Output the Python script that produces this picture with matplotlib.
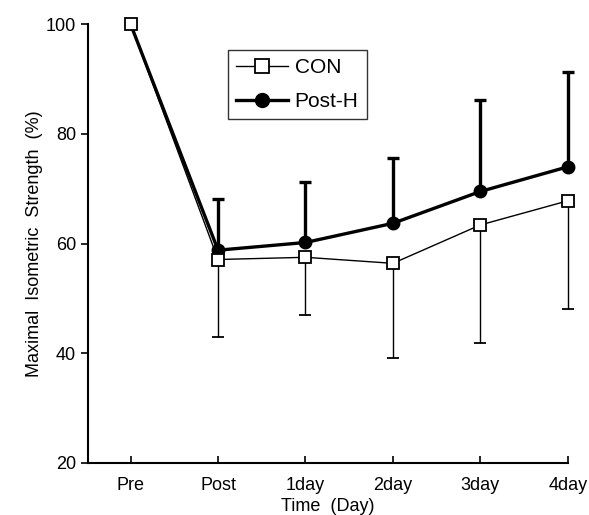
import numpy as np
import matplotlib
matplotlib.use('Agg')
import matplotlib.pyplot as plt

plt.rcParams['font.family'] = ['Liberation Sans', 'DejaVu Sans']

# data
days = ['Pre', 'Post', '1day', '2day', '3day', '4day']
con_mean = [100, 57.1, 57.5, 56.4, 63.4, 67.8]
con_sd = [0, 14.2, 10.6, 17.2, 21.6, 19.8]        # drawn downward only
posth_mean = [100, 58.8, 60.2, 63.7, 69.5, 74.0]
posth_sd = [0, 9.3, 11.0, 11.9, 16.7, 17.3]       # drawn upward only

x = np.arange(len(days))
zeros = np.zeros(len(days))

fig = plt.figure(figsize=(5.89, 5.15), dpi=100)
ax = fig.add_axes([0.149, 0.101, 0.815, 0.852])

# Post-H: thick line, filled circles, upper error bars
eb = ax.errorbar(x[1:], posth_mean[1:], yerr=[zeros[1:], posth_sd[1:]], fmt='none',
                 ecolor='black', elinewidth=2.4, capsize=4, capthick=2.4, zorder=2)
for art in eb.lines[1] + eb.lines[2]:
    art.set_clip_on(False)
ax.plot(x, posth_mean, color='black', lw=2.4, zorder=3, clip_on=False)
ax.plot(x[1:], posth_mean[1:], 'o', color='black', ms=9, zorder=4, clip_on=False)

# CON: thin line, open squares, lower error bars
eb = ax.errorbar(x[1:], con_mean[1:], yerr=[con_sd[1:], zeros[1:]], fmt='none',
                 ecolor='black', elinewidth=1.0, capsize=4, capthick=1.3, zorder=2)
for art in eb.lines[1] + eb.lines[2]:
    art.set_clip_on(False)
ax.plot(x, con_mean, color='black', lw=1.0, zorder=3, clip_on=False)
ax.plot(x, con_mean, 's', mfc='white', mec='black', mew=1.3, ms=9, zorder=5,
        clip_on=False)

# legend proxies
h1, = ax.plot([], [], color='black', lw=1.0, marker='s', mfc='white', mec='black',
              mew=1.3, ms=10)
h2, = ax.plot([], [], color='black', lw=2.4, marker='o', ms=10)
leg = ax.legend([h1, h2], ['CON', 'Post-H'], loc='upper left',
                bbox_to_anchor=(0.292, 0.941), borderaxespad=0, fontsize=15,
                frameon=True, fancybox=False, edgecolor='black', handlelength=2.5,
                borderpad=0.4, labelspacing=0.7, handletextpad=0.3)
leg.get_frame().set_linewidth(1.0)

ax.set_xlim(-0.49, 5.0)
ax.set_ylim(20, 100)
ax.set_xticks(x)
ax.set_xticklabels(days, fontsize=13)
ax.set_yticks([20, 40, 60, 80, 100])
ax.tick_params(axis='y', labelsize=13, direction='out', length=5, width=1.2)
ax.tick_params(axis='x', direction='in', length=5, width=1.2, pad=10)

for s in ['top', 'right']:
    ax.spines[s].set_visible(False)
for s in ['left', 'bottom']:
    ax.spines[s].set_linewidth(1.5)

ax.set_xlabel('Time  (Day)', fontsize=13, labelpad=3)
ax.set_ylabel('Maximal  Isometric  Strength  (%)', fontsize=13, labelpad=2)

fig.savefig('out.png', dpi=100)
